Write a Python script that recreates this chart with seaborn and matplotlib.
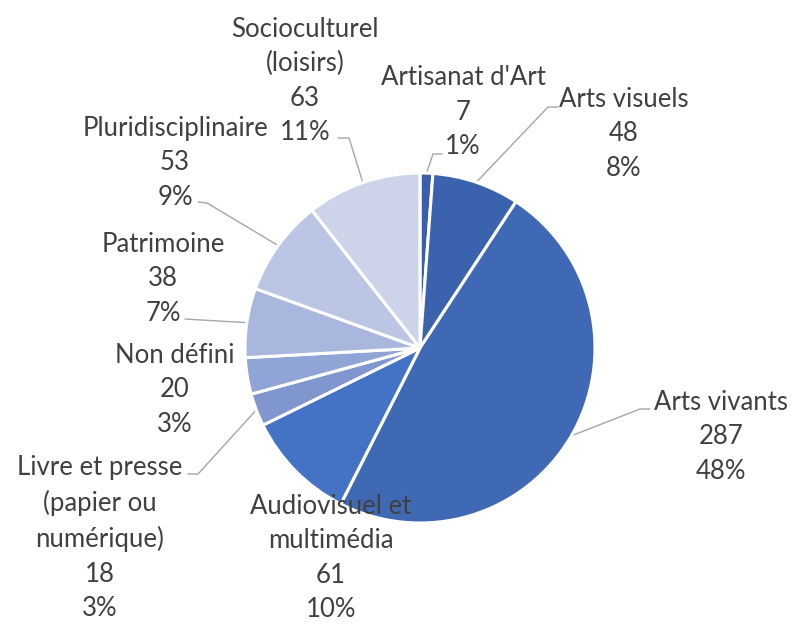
import matplotlib
matplotlib.use("Agg")
import matplotlib.pyplot as plt
import seaborn as sns
import numpy as np

# ---- data ----
categories = ["Artisanat d'Art", "Arts visuels", "Arts vivants",
              "Audiovisuel et multimédia", "Livre et presse (papier ou numérique)",
              "Non défini", "Patrimoine", "Pluridisciplinaire", "Socioculturel (loisirs)"]
label_texts = ["Artisanat d'Art", "Arts visuels", "Arts vivants",
               "Audiovisuel et\nmultimédia", "Livre et presse\n(papier ou\nnumérique)",
               "Non défini", "Patrimoine", "Pluridisciplinaire", "Socioculturel\n(loisirs)"]
values = [7, 48, 287, 61, 18, 20, 38, 53, 63]
pct_labels = ["1%", "8%", "48%", "10%", "3%", "3%", "7%", "9%", "11%"]

# ---- styles / layout ----
colors = ["#3A5EA9", "#3B63AD", "#3F69B4", "#4472C4", "#7F96CF",
          "#91A4D6", "#A9B6DD", "#BBC5E4", "#CDD4EA"]
W, H = 798, 627
CX, CY, R = 420, 348, 175
# label block centers (pixels) and leader elbow points (pixels, None = no line)
label_pos = [(463, 112), (624, 134), (721, 437), (331, 558), (100, 538),
             (175, 390), (163, 279), (175, 163), (305, 81)]
elbows = [[(442, 154), (433, 154)], [(558, 107), (548, 107)], [(650, 409), (640, 409)],
          None, [(188, 474), (198, 474)], None, [(185, 319)], [(198, 202), (207, 203)],
          [(338, 138), (349, 138)]]

sns.set_theme(style="white")
plt.rcParams['font.family'] = ['Lato', 'DejaVu Sans']

fig = plt.figure(figsize=(W / 100, H / 100), dpi=100)
ax = fig.add_axes([0, 0, 1, 1])

def px(x, y):
    return ((x - CX) / R, (CY - y) / R)

wedges, _ = ax.pie(values, colors=colors, startangle=90, counterclock=False,
                   radius=1.0, wedgeprops=dict(edgecolor="white", linewidth=2.2))
ax.set_xlim(-CX / R, (W - CX) / R)
ax.set_ylim(-(H - CY) / R, CY / R)
ax.set_aspect("equal")
ax.axis("off")

for w, txt, v, pct, pos, el in zip(wedges, label_texts, values, pct_labels, label_pos, elbows):
    lx, ly = px(*pos)
    ax.text(lx, ly, f"{txt}\n{v}\n{pct}", ha="center", va="center",
            multialignment="center", fontsize=18.5, color="#404040", linespacing=1.47)
    if el is not None:
        ang = np.deg2rad((w.theta1 + w.theta2) / 2)
        ex, ey = np.cos(ang), np.sin(ang)
        pts = [px(*p) for p in el] + [(ex, ey)]
        xs, ys = zip(*pts)
        ax.plot(xs, ys, color="#A6A6A6", lw=1.0, zorder=0)

fig.savefig("out.png", dpi=100, facecolor="white")
